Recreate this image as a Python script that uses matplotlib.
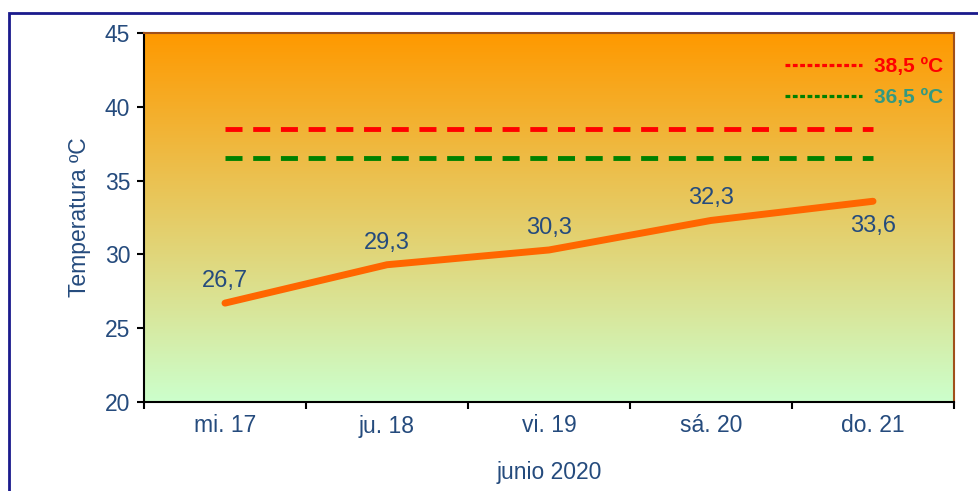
import numpy as np
import matplotlib.pyplot as plt
from matplotlib.lines import Line2D
from matplotlib.patches import Rectangle
from matplotlib.colors import LinearSegmentedColormap

# Data
days = ['mi. 17', 'ju. 18', 'vi. 19', 'sá. 20', 'do. 21']
temps = [26.7, 29.3, 30.3, 32.3, 33.6]
limit_high = 38.5
limit_low = 36.5

text_color = '#254B7D'

plt.rcParams['font.family'] = ['Liberation Sans', 'DejaVu Sans']

fig = plt.figure(figsize=(9.79, 4.91), dpi=100)
ax = fig.add_axes([144/979, 1 - 402/491, (954-144)/979, (402-33)/491])

# outer frame (runs off the image on the right and bottom)
fig.patches.append(Rectangle((9/979, -0.1), 1.2, 1 - 13/491 + 0.1,
                             transform=fig.transFigure, fill=False,
                             edgecolor='#1A1A8C', linewidth=2, zorder=0))

x = np.arange(len(days))

# gradient background
cmap = LinearSegmentedColormap.from_list('bg', ['#CCFFCC', '#FF9900'])
grad = np.linspace(0, 1, 256).reshape(-1, 1)
ax.imshow(grad, cmap=cmap, aspect='auto', origin='lower',
          extent=[-0.5, 4.5, 20, 45], zorder=0)

# threshold lines
ax.plot([x[0], x[-1]], [limit_high, limit_high], color='#FF0000',
        linewidth=3.5, dashes=(3.5, 2.2), zorder=2)
ax.plot([x[0], x[-1]], [limit_low, limit_low], color='#008000',
        linewidth=3.5, dashes=(3.5, 2.2), zorder=2)

# temperature line
ax.plot(x, temps, color='#FF6600', linewidth=5, solid_capstyle='round', zorder=3)

for i, t in enumerate(temps):
    lbl = f'{t:.1f}'.replace('.', ',')
    if i == len(temps) - 1:
        ax.annotate(lbl, (x[i], t), xytext=(0, -10), textcoords='offset points',
                    ha='center', va='top', fontsize=17, color=text_color)
    else:
        ax.annotate(lbl, (x[i], t), xytext=(0, 8), textcoords='offset points',
                    ha='center', va='bottom', fontsize=17, color=text_color)

ax.set_xlim(-0.5, 4.5)
ax.set_ylim(20, 45)
ax.set_yticks(np.arange(20, 46, 5))
ax.set_xticks(x)
ax.set_xticklabels(days)
ax.set_xticks(np.arange(-0.5, 4.6, 1), minor=True)
ax.tick_params(axis='x', which='major', length=0, pad=9, labelsize=16.5, labelcolor=text_color)
ax.tick_params(axis='x', which='minor', length=5, width=1.5, direction='out')
ax.tick_params(axis='y', length=5, width=1.5, direction='out', labelsize=16.5,
               labelcolor=text_color, pad=5)

ax.set_ylabel('Temperatura ºC', fontsize=16.5, color=text_color, labelpad=10)
ax.set_xlabel('junio 2020', fontsize=16.5, color=text_color, labelpad=17)

for side in ['left', 'bottom']:
    ax.spines[side].set_color('black')
    ax.spines[side].set_linewidth(1.5)
for side in ['top', 'right']:
    ax.spines[side].set_color('#A0501A')
    ax.spines[side].set_linewidth(1.5)

# legend
handles = [Line2D([], [], color='#FF0000', linewidth=2.3, dashes=(1.5, 0.8)),
           Line2D([], [], color='#008000', linewidth=2.3, dashes=(1.5, 0.8))]
leg = ax.legend(handles, ['38,5 ºC', '36,5 ºC'], loc='upper right',
                bbox_to_anchor=(943/979, 1 - 57/491), bbox_transform=fig.transFigure,
                frameon=False, handlelength=3.7, handletextpad=0.55,
                labelspacing=0.58, borderaxespad=0, borderpad=0,
                prop={'size': 15, 'weight': 'bold'})
for txt, c in zip(leg.get_texts(), ['#FF0000', '#339980']):
    txt.set_color(c)

fig.savefig('out.png', dpi=100)
